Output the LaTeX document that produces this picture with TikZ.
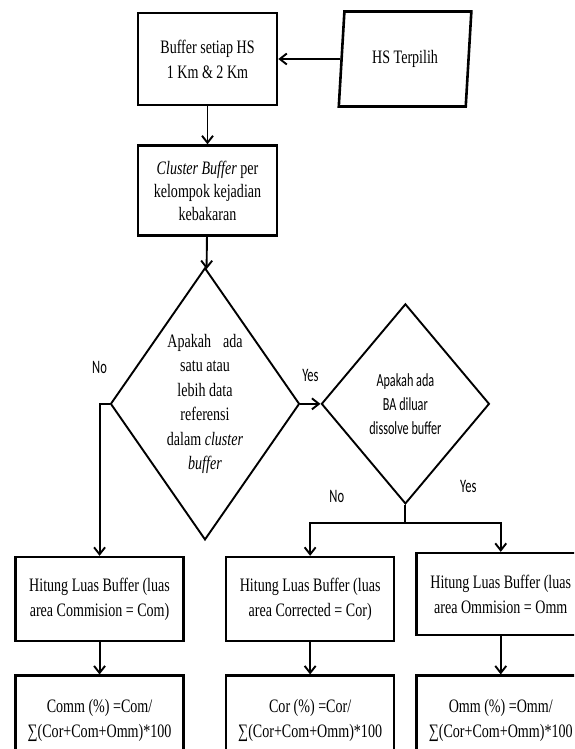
\documentclass[tikz,border=0pt]{standalone}
\usepackage{fontspec}
\setmainfont[FakeStretch=0.74]{Liberation Serif}
\newfontfamily\calib[FakeStretch=0.66]{Carlito}
\usepackage{tikz}
\usetikzlibrary{shapes.geometric, arrows.meta, positioning, calc}
\tikzset{
    process/.style={
        rectangle,
        line width=2.6pt,
        draw=black,
        minimum width=168pt,
        minimum height=84pt,
        align=center,
        font=\fontsize{19pt}{25pt}\selectfont,
    },
    data/.style={
        trapezium,
        trapezium left angle=82,
        trapezium right angle=98,
        trapezium stretches=true,
        line width=2.6pt,
        draw=black,
        minimum width=133pt,
        minimum height=95pt,
        font=\fontsize{19pt}{25pt}\selectfont,
    },
    decision/.style={
        diamond,
        line width=1.9pt,
        draw=black,
        inner sep=0pt,
        align=center,
    },
    answer/.style={
        font=\calib\fontsize{19pt}{20pt}\selectfont,
        inner sep=1pt,
    },
}

\begin{document}
\begin{tikzpicture}[>={Straight Barb[length=7pt,width=11pt]}, line width=1.9pt]
      \useasboundingbox (0,0) rectangle (574pt,-749pt);
      \clip (0,0) rectangle (574pt,-749pt);

      \node [process, minimum width=139pt, minimum height=92pt] (Buffer) at (207.5pt,-59pt) {Buffer setiap HS\\1 Km \& 2 Km};
      \node [data, right=62pt of Buffer] (Terpilih) {HS Terpilih};
      \node [process, minimum width=139pt, minimum height=90pt, below=38pt of Buffer,
             font=\fontsize{19pt}{23pt}\selectfont] (Cluster) {\textit{Cluster Buffer} per\\kelompok kejadian\\kebakaran};

      \node [decision, minimum width=189pt, minimum height=272pt, aspect=0.7, below=30pt of Cluster, xshift=-2.5pt,
             font=\fontsize{19pt}{24.4pt}\selectfont] (AdaRef)
            {Apakah\hspace{12pt}ada\\satu atau\\lebih data\\referensi\\dalam \textit{cluster}\\\textit{buffer}};
      \node [decision, minimum width=168pt, minimum height=200pt, aspect=0.84, right=20pt of AdaRef,
             font=\calib\fontsize{18.5pt}{24pt}\selectfont] (AdaBA)
            {Apakah ada\\BA diluar\\dissolve buffer};

      \coordinate [left=10pt of AdaRef.west] (NoTurn);
      \coordinate [below=18pt of AdaBA.south] (Split);

      \node [process, below=152pt of NoTurn] (LuasCom) {Hitung Luas Buffer (luas\\area Commision = Com)};
      \node [process, right=40pt of LuasCom] (LuasCor) {Hitung Luas Buffer (luas\\area Corrected = Cor)};
      \node [process, minimum height=82pt, right=20pt of LuasCor, yshift=5pt] (LuasOmm) {Hitung Luas Buffer (luas\\area Ommision = Omm};

      \node [process, minimum height=90pt, below=32pt of LuasCom] (PctCom) {Comm (\%) =Com/\\∑(Cor+Com+Omm)*100};
      \node [process, minimum height=90pt, below=32pt of LuasCor] (PctCor) {Cor (\%) =Cor/\\∑(Cor+Com+Omm)*100};
      \node [process, minimum height=90pt, below=38pt of LuasOmm] (PctOmm) {Omm (\%) =Omm/\\∑(Cor+Com+Omm)*100};

      \draw[->] (Terpilih) -- (Buffer);
      \draw[->] (Buffer) -- (Cluster);
      \draw[->] (Cluster) -- (AdaRef);
      \draw[->] (AdaRef.east) -- node[answer, above=20pt] {Yes} (AdaBA.west);
      \draw[->] (AdaRef.west) -- (NoTurn) node[answer, above=28pt] {No} -- (LuasCom.north);
      \draw (AdaBA.south) -- (Split);
      \draw[->] (Split) -| node[answer, pos=0.36, above=18pt] {No} (LuasCor.north);
      \draw[->] (Split) -| node[answer, pos=0.33, above=28pt] {Yes} (LuasOmm.north);
      \draw[->] (LuasCom) -- (PctCom);
      \draw[->] (LuasCor) -- (PctCor);
      \draw[->] (LuasOmm) -- (PctOmm);
    \end{tikzpicture}
\end{document}
